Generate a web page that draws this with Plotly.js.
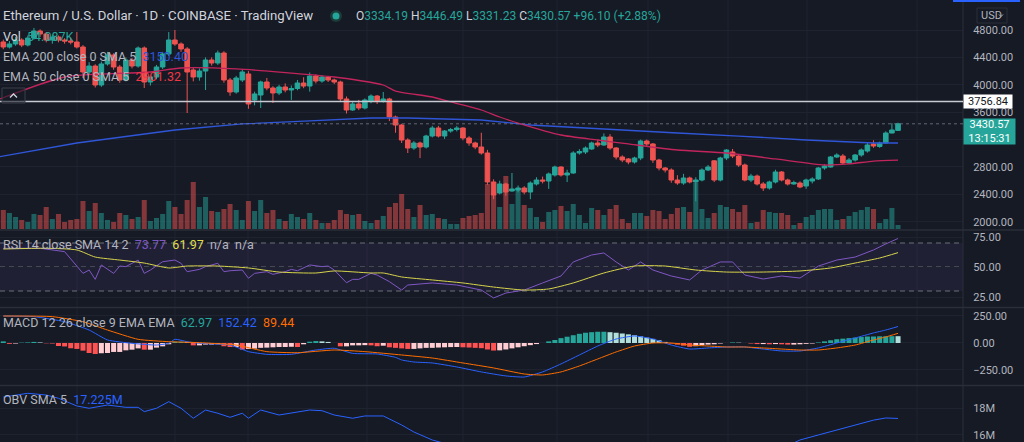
<!DOCTYPE html>
<html><head><meta charset="utf-8">
<script src="https://cdn.plot.ly/plotly-3.0.1.min.js"></script>
<style>html,body{margin:0;padding:0;background:#161a25;overflow:hidden}#chart{width:1024px;height:442px;}</style>
</head><body><div id="chart"></div>
<script>
// ---------- DATA ----------
const open = [4625,4552,4596,4654,4581,4683,4785,4742,4654,4698,
 4654,4639,4625,4552,4187,4274,3997,4304,4435,4260,
 4070,4362,4274,4537,4041,4114,4260,4450,4654,4596,
 4523,4216,4114,4201,4362,4318,4464,4070,3895,4070,
 4158,3778,3851,4041,3953,3880,3968,3924,3946,4026,
 3982,4128,4055,4114,4070,4041,3793,3632,3720,3661,
 3763,3836,3763,3793,3530,3413,3194,3077,3150,3092,
 3252,3369,3252,3325,3347,3369,3223,3150,3092,3004,
 2581,2420,2552,2449,2464,2493,2435,2552,2610,2595,
 2683,2800,2683,2712,3004,3019,3063,3150,3121,3238,
 3077,2946,2917,2873,2931,3179,3136,2902,2785,2756,
 2610,2566,2639,2581,2610,2756,2890,2610,2931,3019,
 2960,2829,2610,2668,2552,2493,2581,2727,2610,2552,
 2566,2522,2595,2625,2785,2800,2946,2960,2858,2902,
 2975,3033,3136,3099,3150,3296,3334.19];
const close = [4552,4596,4654,4581,4683,4785,4742,4654,4698,4654,
 4639,4625,4552,4187,4274,3997,4304,4435,4260,4070,
 4362,4274,4537,4041,4114,4260,4450,4654,4596,4523,
 4187,4114,4201,4362,4318,4464,4070,3895,4099,4187,
 3720,3866,4041,3953,3880,3968,3924,3946,4026,3982,
 4128,4055,4114,4070,4041,3793,3632,3720,3661,3778,
 3836,3763,3793,3530,3413,3194,3077,3150,3092,3252,
 3369,3252,3325,3347,3369,3223,3150,3092,3004,2581,
 2391,2552,2435,2479,2493,2435,2566,2610,2595,2698,
 2800,2683,2712,3004,3026,3077,3150,3121,3238,3077,
 2946,2902,2873,2931,3179,3136,2902,2785,2756,2610,
 2566,2639,2581,2610,2756,2800,2610,2931,3048,2960,
 2829,2610,2668,2552,2493,2581,2727,2610,2552,2573,
 2508,2610,2625,2785,2814,2946,2975,2858,2902,2975,
 3048,3121,3106,3150,3296,3340,3430.57];
const high = [4660,4640,4700,4680,4720,4830,4810,4770,4730,4720,
 4680,4690,4770,4580,4330,4300,4340,4480,4460,4290,
 4400,4390,4560,4560,4150,4290,4480,4770,4800,4620,
 4550,4260,4240,4400,4400,4500,4490,4100,4130,4230,
 4200,3900,4060,4100,3980,4000,4020,3990,4070,4110,
 4180,4150,4140,4130,4090,4060,3830,3760,3780,3800,
 3860,3850,3895,3810,3550,3430,3220,3180,3170,3270,
 3400,3400,3340,3370,3400,3380,3250,3170,3300,3050,
 2620,2600,2570,2712,2530,2520,2590,2650,2660,2720,
 2820,2810,2760,3030,3060,3100,3170,3200,3290,3280,
 3090,2970,2930,2950,3200,3200,3150,2920,2800,2780,
 2680,2700,2660,2650,2780,2830,2900,2950,3060,3063,
 2980,2850,2700,2690,2580,2600,2760,2740,2630,2600,
 2590,2630,2650,2800,2840,2960,3000,2990,2930,2990,
 3070,3150,3190,3170,3320,3440,3446.49];
const low = [4520,4530,4570,4550,4560,4660,4700,4620,4600,4620,
 4600,4590,4530,4100,4150,3960,3970,4280,4220,4030,
 4050,4240,4250,3953,3990,4080,4230,4420,4570,4480,
 3588,4050,4060,3924,4280,4290,4030,3840,3870,4040,
 3650,3700,3661,3920,3734,3850,3890,3780,3920,3950,
 3900,4020,4030,4040,4010,3750,3580,3620,3630,3640,
 3730,3720,3740,3470,3300,3150,3004,3050,2930,3070,
 3230,3230,3210,3300,3320,3190,3110,3060,2980,2540,
 2330,2400,2380,2440,2430,2400,2330,2530,2560,2480,
 2660,2660,2580,2700,2980,2990,3050,3090,3110,3050,
 2910,2870,2840,2850,2900,3100,2860,2750,2720,2570,
 2540,2540,2560,2300,2590,2740,2580,2590,2900,2930,
 2800,2590,2580,2530,2450,2470,2560,2590,2530,2540,
 2490,2480,2560,2610,2760,2790,2930,2830,2840,2880,
 2950,3010,3080,3080,3140,3290,3331.23];
// volume in thousands of ETH
const volume = [257,216,162,122,95,203,189,297,135,203,
 95,122,135,378,243,351,216,122,95,216,
 189,135,162,392,108,149,203,378,297,203,
 392,635,297,432,243,230,270,338,257,122,
 378,243,392,216,257,135,108,203,162,135,
 216,122,81,81,122,257,203,189,203,108,
 81,122,176,297,351,473,270,162,324,189,
 203,149,135,68,68,149,176,189,216,608,
 513,297,716,338,527,324,284,162,95,230,
 257,311,243,338,189,81,284,257,189,270,
 324,135,81,216,216,176,257,243,135,203,
 284,297,230,621,270,149,216,324,297,270,
 230,324,81,95,257,230,216,216,189,54,
 81,162,189,257,270,270,122,135,176,230,
 257,297,270,81,135,284,54.087];
// EMA lines (sampled points: bar index, value)
const ema200Idx = [-1,12,28,39,50,60,66,73,78,86,97,110,120,131,142,146];
const ema200Val = [2945,3150,3340,3428,3472,3515,3515,3500,3486,3413,3355,3296,3252,3194,3150,3150.40];
const ema50Idx = [-1,10,24,29,38,54,62,64,70,73,78,81,84,91,97,102,110,118,126,134,138,142,146];
const ema50Val = [3778,4114,4187,4245,4231,4114,3997,3909,3822,3749,3632,3530,3442,3267,3194,3136,3048,3004,2917,2829,2844,2887,2901.32];
// RSI
const rsiIdx = [0,6,10,13,14,15,16,18,19,20,22,23,24,26,28,29,30,32,33,35,36,37,39,40,41,43,44,46,47,48,50,52,53,54,56,57,58,60,61,63,65,
 66,70,74,78,80,82,85,88,91,93,96,98,100,102,104,106,109,112,114,117,119,121,124,127,130,133,136,139,142,144,146];
const rsiVal = [65.6,65.6,62.8,44.7,47.5,39.7,51.7,44.7,50.8,50.3,55.8,44.7,47.5,54.4,55.8,53.1,46.1,48,50.3,53.1,46.1,46.9,47.5,40.6,44.7,46.1,43.9,46.1,48,46.9,51.7,50.3,50.8,47.5,36.9,39.7,39.7,44.7,43.3,37.8,30.8,
 35,36.7,35,30.8,24.2,28.3,30.8,36.7,42.5,54.2,60,61.7,54.2,47.5,54.2,47.5,42.5,39.2,47.5,54.2,54.2,43.3,40,42.5,40.8,50.8,55.8,58.3,64.2,69.2,73.77];
const rsiMaIdx = [0,7,12,15,19,23,27,30,35,40,45,51,54,60,62,65,70,75,80,85,89,93,98,103,108,113,118,124,130,135,139,143,146];
const rsiMaVal = [65,65.6,64.2,58.3,55.8,53.3,49.2,50.8,50.8,49.2,45.8,45,46.7,45,45,41.7,39.2,36.7,33.3,30.8,31.7,36.7,45,50.8,50.8,47.5,45.8,45.8,46.7,49.2,53.3,57.5,61.97];
// MACD
const macdIdx = [0,5,10,14,17,21,25,27,28,30,32,37,40,43,47,51,54,57,61,64,65,67,70,74,78,82,85,88,91,94,97,100,103,106,109,112,115,118,121,124,127,130,133,136,139,142,144,146];
const macdVal = [250,244,197,120,28,-3,-19,-3,34,12,-3,-19,-80,-105,-105,-65,-49,-96,-102,-133,-157,-176,-185,-222,-268,-305,-315,-268,-194,-111,-28,37,65,37,-19,-56,-46,-37,-37,-56,-74,-74,-46,0,46,93,120,152.42];
const signalIdx = [0,8,13,17,22,27,32,38,43,48,54,59,65,70,75,80,85,88,91,94,97,100,103,106,109,112,115,118,121,124,127,130,133,136,139,142,144,146];
const signalVal = [250,244,197,120,34,12,3,-19,-80,-90,-65,-80,-111,-139,-185,-231,-287,-296,-268,-213,-148,-83,-28,0,0,-19,-28,-37,-37,-46,-56,-65,-65,-46,-19,28,56,89.44];
const histVal = [15,-8,-5,3,5,10,5,-3,-5,-28,
 -32,-49,-55,-71,-93,-102,-95,-93,-83,-83,
 -68,-62,-50,-62,-62,-43,-31,-12,12,12,
 8,-22,-22,-15,-15,-12,-30,-37,-37,-62,
 -55,-52,-45,-43,-40,-37,-37,-35,-37,-12,
 12,18,15,10,0,-31,-31,-22,-22,-20,
 -22,-30,-25,-40,-45,-50,-55,-55,-50,-45,
 -45,-42,-40,-38,-37,-40,-42,-45,-48,-60,
 -70,-68,-60,-50,-40,-30,-20,-10,0,15,
 28,45,58,72,85,95,100,104,104,100,
 95,88,80,72,62,50,38,25,10,-5,
 -15,-25,-35,-30,-20,-15,-12,-5,0,5,
 3,0,-5,-10,-10,-12,-10,-12,-15,-15,
 -12,-8,-5,5,15,25,35,40,45,50,
 55,60,60,62,62,63,62.97];
// OBV (millions)
const obvIdx = [0,4,7,9,12,14,17,20,22,23,25,27,29,31,33,35,37,39,40,42,45,47,50,52,54,57,59,62,65,67,70,75,80,85,90,95,100,105,110,115,120,125,128,130,133,136,139,142,144,146];
const obvVal = [18.81,19.09,18.96,18.72,18.15,17.98,18.22,18.05,18.05,17.73,17.98,18.47,17.98,17.24,17.85,17.61,17.31,17.61,17.24,17.85,17.48,17.61,17.85,17.8,17.48,17.24,17.41,17.41,16.74,16.22,15.63,15.0,14.4,14.1,14.3,14.8,14.6,14.9,14.5,14.6,14.8,14.9,15.2,15.63,16.0,16.37,16.74,17.1,17.26,17.225];
const priceTicks = [2000,2400,2800,3600,4000,4400,4800];
const hLinePrice = 3756.84;
const lastPrice = 3430.57;

// ---------- LAYOUT HELPERS (pixel geometry) ----------
const PW = 963, PH = 442;
const px = x => x / PW;
const py = y => 1 - y / PH;
const day = open.map((_, i) => i);

const UP = '#26a69a', DN = '#ef5350';
const volColors = close.map((c, i) => c >= open[i] ? 'rgba(38,166,154,0.5)' : 'rgba(239,83,80,0.5)');
const histColors = histVal.map((h, i) => {
  const p = i > 0 ? histVal[i-1] : h;
  if (h >= 0) return h >= p ? '#26a69a' : '#b2dfdb';
  return h < p ? '#ff5252' : '#ffcdd2';
});

const traces = [
  {type:'bar', x:day, y:volume, xaxis:'x', yaxis:'y', marker:{color:volColors, line:{width:0}}, hoverinfo:'skip'},
  {type:'candlestick', x:day, open:open, high:high, low:low, close:close, xaxis:'x', yaxis:'y2',
   increasing:{line:{color:UP, width:1}, fillcolor:UP}, decreasing:{line:{color:DN, width:1}, fillcolor:DN},
   whiskerwidth:0, hoverinfo:'skip'},
  {type:'scatter', mode:'lines', x:ema200Idx, y:ema200Val, xaxis:'x', yaxis:'y2', line:{color:'#2f56d8', width:1.3}, hoverinfo:'skip'},
  {type:'scatter', mode:'lines', x:ema50Idx, y:ema50Val, xaxis:'x', yaxis:'y2', line:{color:'#c2255c', width:1.3, shape:'spline', smoothing:0.6}, hoverinfo:'skip'},
  {type:'scatter', mode:'lines', x:rsiIdx, y:rsiVal, xaxis:'x', yaxis:'y3', line:{color:'#7e57c2', width:1}, hoverinfo:'skip'},
  {type:'scatter', mode:'lines', x:rsiMaIdx, y:rsiMaVal, xaxis:'x', yaxis:'y3', line:{color:'#d6d44a', width:1, shape:'spline', smoothing:0.6}, hoverinfo:'skip'},
  {type:'bar', x:day, y:histVal, xaxis:'x', yaxis:'y4', marker:{color:histColors, line:{width:0}}, hoverinfo:'skip'},
  {type:'scatter', mode:'lines', x:macdIdx, y:macdVal, xaxis:'x', yaxis:'y4', line:{color:'#2962ff', width:1, shape:'spline', smoothing:0.5}, hoverinfo:'skip'},
  {type:'scatter', mode:'lines', x:signalIdx, y:signalVal, xaxis:'x', yaxis:'y4', line:{color:'#ff6d00', width:1, shape:'spline', smoothing:0.5}, hoverinfo:'skip'},
  {type:'scatter', mode:'lines', x:obvIdx, y:obvVal, xaxis:'x', yaxis:'y5', line:{color:'#2962ff', width:1}, hoverinfo:'skip'}
];

const GRID = '#1f2330';
const TICKF = {family:'Roboto, "DejaVu Sans", sans-serif', size:11, color:'#b2b5be'};
const axBase = {side:'right', anchor:'x', showgrid:true, gridcolor:GRID, gridwidth:1, zeroline:false, showline:false,
  ticks:'outside', ticklen:7, tickcolor:'rgba(0,0,0,0)', tickfont:TICKF, ticklabeloverflow:'allow', fixedrange:true};

const shapes = [];
// vertical grid lines
[77,175,248,367,463,557,648,728,807,917].forEach(x => shapes.push({type:'line', xref:'paper', yref:'paper', x0:px(x), x1:px(x), y0:0, y1:1, line:{color:GRID, width:1}, layer:'below'}));
// 3200 price grid line (label hidden behind the last-price box)
shapes.push({type:'line', xref:'paper', yref:'y2', x0:0, x1:1, y0:3200, y1:3200, line:{color:GRID, width:1}, layer:'below'});
// pane separators
[230, 307.5, 385.5].forEach(y => shapes.push({type:'line', xref:'paper', yref:'paper', x0:0, x1:1024/PW, y0:py(y), y1:py(y), line:{color:'#2a2e39', width:1.5}}));
shapes.push({type:'line', xref:'paper', yref:'paper', x0:1, x1:1, y0:0, y1:1, line:{color:'#2a2e39', width:1}});
// RSI band & levels
shapes.push({type:'rect', xref:'paper', yref:'y3', x0:0, x1:1, y0:30, y1:70, fillcolor:'rgba(126,87,194,0.1)', line:{width:0}, layer:'below'});
[70,50,30].forEach(v => shapes.push({type:'line', xref:'paper', yref:'y3', x0:0, x1:1, y0:v, y1:v, line:{color:'#6b6e7a', width:1, dash:'5px,4px'}, layer:'below'}));
// last price dotted line & horizontal level
shapes.push({type:'line', xref:'paper', yref:'y2', x0:0, x1:1, y0:lastPrice, y1:lastPrice, line:{color:'rgba(120,123,134,0.8)', width:1, dash:'dot'}});
shapes.push({type:'line', xref:'paper', yref:'y2', x0:0, x1:1, y0:hLinePrice, y1:hLinePrice, line:{color:'#c8cad1', width:1.5}});
// legend collapse button
shapes.push({type:'rect', xref:'paper', yref:'paper', x0:px(2), x1:px(25), y0:py(103), y1:py(88), line:{color:'#3a3e4a', width:1}, fillcolor:'rgba(22,26,37,0.6)'});
shapes.push({type:'path', xref:'paper', yref:'paper', path:`M ${px(10)} ${py(97.5)} L ${px(13.5)} ${py(94)} L ${px(17)} ${py(97.5)}`, line:{color:'#d1d4dc', width:1.3}});
// status dot
shapes.push({type:'circle', xref:'paper', yref:'paper', x0:px(330), x1:px(342), y0:py(22), y1:py(10), fillcolor:'#1b3b39', line:{width:0}});
shapes.push({type:'circle', xref:'paper', yref:'paper', x0:px(332.5), x1:px(339.5), y0:py(19.5), y1:py(12.5), fillcolor:'#26a69a', line:{width:0}});
// top-right accent bar and USD box
shapes.push({type:'rect', xref:'paper', yref:'paper', x0:px(953), x1:px(1020), y0:py(2), y1:py(0), fillcolor:'#2962ff', line:{width:0}});
shapes.push({type:'rect', xref:'paper', yref:'paper', x0:px(977), x1:px(1007), y0:py(23), y1:py(8), fillcolor:'rgba(0,0,0,0)', line:{color:'#2a2e39', width:1}});
shapes.push({type:'path', xref:'paper', yref:'paper', path:`M ${px(999)} ${py(14.5)} L ${px(1001)} ${py(16.5)} L ${px(1003)} ${py(14.5)}`, line:{color:'#b2b5be', width:1}});

const FONT = 'Roboto, "DejaVu Sans", sans-serif';
function lab(text, x, y, size, color, extra) {
  return Object.assign({text:text, xref:'paper', yref:'paper', x:px(x), y:py(y), xanchor:'left', yanchor:'middle', showarrow:false,
    font:{family:FONT, size:size, color:color}}, extra || {});
}
const G = '#26a69a';
const sp = (c, t) => `<span style="color:${c}">${t}</span>`;
const annotations = [
  lab('Ethereum / U.S. Dollar · 1D · COINBASE · TradingView', 1, 16, 13.2, '#d1d4dc'),
  lab('O' + sp(G,'3334.19') + '\u00a0H' + sp(G,'3446.49') + '\u00a0L' + sp(G,'3331.23') + '\u00a0C' + sp(G,'3430.57') + '\u00a0' + sp(G,'+96.10 (+2.88%)'), 354, 16, 12, '#d1d4dc'),
  lab('Vol\u00a0\u00a0' + sp(G,'54.087K'), 1, 36, 12.5, '#d1d4dc'),
  lab('EMA 200 close 0 SMA 5\u00a0\u00a0' + sp('#2f56d8','3150.40'), 1, 56, 12.5, '#b2b5be'),
  lab('EMA 50 close 0 SMA 5\u00a0\u00a0' + sp('#f23645','2901.32'), 1, 76, 12.5, '#b2b5be'),
  lab('RSI 14 close SMA 14 2\u00a0\u00a0' + sp('#7e57c2','73.77') + '\u00a0\u00a0' + sp('#e0de4a','61.97') + '\u00a0\u00a0n/a\u00a0\u00a0n/a', 1, 244, 12.5, '#b2b5be'),
  lab('MACD 12 26 close 9 EMA EMA\u00a0\u00a0' + sp('#26a69a','62.97') + '\u00a0\u00a0' + sp('#2962ff','152.42') + '\u00a0\u00a0' + sp('#ff6d00','89.44'), 1, 322, 12.5, '#b2b5be'),
  lab('OBV SMA 5\u00a0\u00a0' + sp('#2962ff','17.225M'), 1, 399, 12.5, '#b2b5be'),
  lab('USD', 979, 15.5, 11, '#b2b5be'),
  {text:'3756.84', xref:'paper', yref:'y2', x:1, y:hLinePrice, xanchor:'left', yanchor:'middle', showarrow:false,
   bgcolor:'#ffffff', width:46, height:11, borderpad:1, align:'center', font:{family:FONT, size:11, color:'#131722'}},
  {text:'3430.57<br>13:15:31', xref:'paper', yref:'y2', x:1, y:lastPrice, xanchor:'left', yanchor:'top', yshift:6, showarrow:false,
   bgcolor:'#26a69a', width:49, height:23, borderpad:1, align:'center', font:{family:FONT, size:11, color:'#ffffff'}}
];

const layout = {
  width:1024, height:442, margin:{l:0, r:61, t:0, b:0, pad:0},
  paper_bgcolor:'#161a25', plot_bgcolor:'#161a25',
  showlegend:false, hovermode:false, dragmode:false,
  bargap:0.18, boxgap:0.25, boxgroupgap:0,
  xaxis:{range:[-0.54, 156.6], showgrid:false, zeroline:false, showticklabels:false, ticks:'', showline:false,
    rangeslider:{visible:false}, fixedrange:true},
  yaxis:{domain:[py(229), 1], range:[0, 3091.5], visible:false, fixedrange:true},
  yaxis2:Object.assign({}, axBase, {overlaying:'y', range:[1894.6, 5238], tickvals:priceTicks,
    ticktext:priceTicks.map(v => v.toFixed(2))}),
  yaxis3:Object.assign({}, axBase, {domain:[py(307), py(231)], range:[16.67, 80], tickvals:[25,50,75], ticktext:['25.00','50.00','75.00']}),
  yaxis4:Object.assign({}, axBase, {domain:[py(385), py(308)], range:[-389, 324], tickvals:[-250,0,250], ticktext:['\u2212250.00','0.00','250.00']}),
  yaxis5:Object.assign({}, axBase, {domain:[0, py(386)], range:[15.48, 19.63], tickvals:[16,18], ticktext:['16M','18M']}),
  shapes:shapes, annotations:annotations
};

Plotly.newPlot('chart', traces, layout, {staticPlot:true, displayModeBar:false});
</script></body></html>
